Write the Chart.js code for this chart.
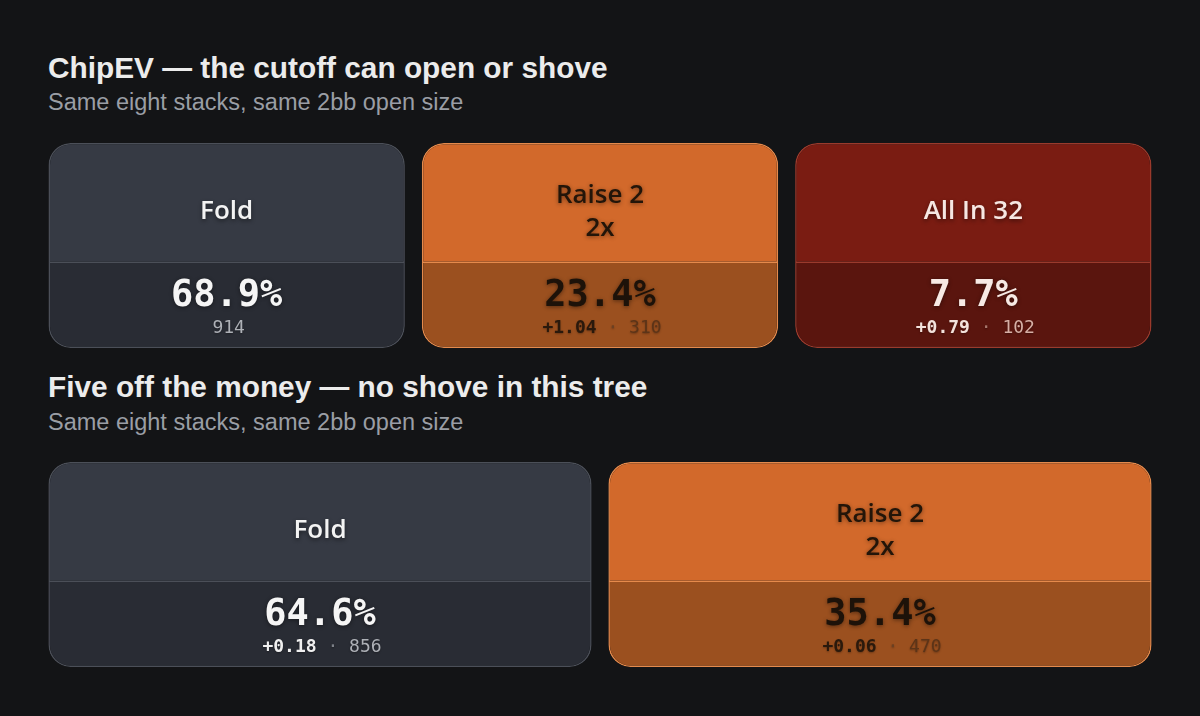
<!DOCTYPE html>
<html><head><meta charset="utf-8">
<script src="https://cdn.jsdelivr.net/npm/chart.js@4.4.1/dist/chart.umd.min.js"></script>
<style>
html,body{margin:0;padding:0;background:#131416;width:1200px;height:716px;overflow:hidden;font-family:"Liberation Sans",Arial,sans-serif;}
.t{position:absolute;left:48px;color:#ececec;font-weight:bold;font-size:29.8px;white-space:nowrap;line-height:1}
.s{position:absolute;left:48px;color:#9a9ea5;font-size:23.5px;white-space:nowrap;line-height:1}
.c{position:absolute;left:40px;width:1120px;height:213px}
</style></head><body>
<div class="t" style="top:53px">ChipEV — the cutoff can open or shove</div>
<div class="s" style="top:91px">Same eight stacks, same 2bb open size</div>
<div class="c" style="top:139px"><canvas id="c1"></canvas></div>
<div class="t" style="top:372px">Five off the money — no shove in this tree</div>
<div class="s" style="top:411px">Same eight stacks, same 2bb open size</div>
<div class="c" style="top:458px"><canvas id="c2"></canvas></div>
<script>
// ---- data ----
const chipActions = ['Fold', 'Raise 2\n2x', 'All In 32'];
const chipFreq = [68.9, 23.4, 7.7];
const chipEV = [null, 1.04, 0.79];
const chipCombos = [914, 310, 102];

const ftmActions = ['Fold', 'Raise 2\n2x'];
const ftmFreq = [64.6, 35.4];
const ftmEV = [0.18, 0.06];
const ftmCombos = [856, 470];

// ---- styles ----
const palette = {
  'Fold':      {top:'#363a44', bot:'#292c34', border:'#4b4f58', label:'#f3f3f3', pct:'#f5f5f5', ev:'#f0f0f0', cnt:'#aeb1b7', dot:'#7d8088'},
  'Raise':     {top:'#d2692b', bot:'#9b501f', border:'#e58a4c', label:'#231509', pct:'#1d1209', ev:'#2a190c', cnt:'#5c3418', dot:'#6b4022'},
  'All In':    {top:'#7a1c12', bot:'#5a150e', border:'#9b3a2c', label:'#f6e7e2', pct:'#f7e9e4', ev:'#f3e2dc', cnt:'#d6afa5', dot:'#a9786d'}
};
function kind(a){ return a.startsWith('Fold') ? 'Fold' : a.startsWith('Raise') ? 'Raise' : 'All In'; }

const SPLIT = 85/205;
const LABEL_FONT = '600 26px "Open Sans", sans-serif';
const PCT_FONT = 'bold 37px "DejaVu Sans Mono", monospace';
const SUB_B = 'bold 18px "DejaVu Sans Mono", monospace';
const SUB_R = '18px "DejaVu Sans Mono", monospace';

const cardText = {
  id:'cardText',
  afterDatasetsDraw(chart){
    const ctx = chart.ctx;
    const {actions, freq, ev, combos} = chart.options.plugins.cardText;
    const head = chart.getDatasetMeta(1).data;
    const body = chart.getDatasetMeta(0).data;
    actions.forEach((a,i)=>{
      const p = palette[kind(a)];
      const h = head[i], b = body[i];
      ctx.save();
      ctx.textAlign='center'; ctx.textBaseline='middle';
      ctx.shadowColor='rgba(0,0,0,0.45)'; ctx.shadowBlur=4; ctx.shadowOffsetY=1.5;
      // label
      ctx.font = LABEL_FONT; ctx.fillStyle = p.label;
      const lines = a.split('\n');
      const cy = (h.y + h.base)/2 + 9;
      const lh = 33;
      lines.forEach((ln,k)=>{
        ctx.fillText(ln, h.x, cy + (k - (lines.length-1)/2)*lh);
      });
      // pct
      ctx.font = PCT_FONT; ctx.fillStyle = p.pct;
      ctx.fillText(freq[i].toFixed(1)+'%', b.x, b.y + 33);
      // sub line
      ctx.shadowBlur=2; ctx.shadowOffsetY=1; ctx.shadowColor='rgba(0,0,0,0.3)';
      const sy = b.y + 65;
      const parts = [];
      if (ev[i] !== null && ev[i] !== undefined) {
        parts.push({t:(ev[i]>=0?'+':'')+ev[i].toFixed(2), f:SUB_B, c:p.ev});
        parts.push({t:' · ', f:SUB_R, c:p.dot});
      }
      parts.push({t:String(combos[i]), f:SUB_R, c:p.cnt});
      let w = 0;
      parts.forEach(pt=>{ ctx.font=pt.f; pt.w = ctx.measureText(pt.t).width; w += pt.w; });
      let x = b.x - w/2 + 2;
      ctx.textAlign='left';
      parts.forEach(pt=>{ ctx.font=pt.f; ctx.fillStyle=pt.c; ctx.fillText(pt.t, x, sy); x += pt.w; });
      ctx.restore();
    });
  }
};

function makeCards(id, actions, freq, ev, combos, frac){
  const cols = actions.map(a=>palette[kind(a)]);
  return new Chart(document.getElementById(id), {
    type:'bar',
    data:{
      labels: actions,
      datasets:[
        { data: actions.map(()=>[0, SPLIT]),
          backgroundColor: cols.map(c=>c.bot), borderColor: cols.map(c=>c.border),
          borderWidth: 1.5, borderSkipped: 'end',
          borderRadius: {topLeft:0, topRight:0, bottomLeft:22, bottomRight:22} },
        { data: actions.map(()=>[SPLIT, 1]),
          backgroundColor: cols.map(c=>c.top), borderColor: cols.map(c=>c.border),
          borderWidth: 1.5, borderSkipped: false,
          borderRadius: {topLeft:22, topRight:22, bottomLeft:0, bottomRight:0} }
      ]
    },
    options:{
      responsive:true, maintainAspectRatio:false, animation:false,
      layout:{padding:{top:4,bottom:4,left:0,right:0}},
      datasets:{bar:{barPercentage:frac, categoryPercentage:1, grouped:false}},
      scales:{
        x:{display:false, stacked:true},
        y:{display:false, min:0, max:1}
      },
      plugins:{legend:{display:false}, tooltip:{enabled:false}, title:{display:false},
        cardText:{actions, freq, ev, combos}}
    },
    plugins:[cardText]
  });
}
makeCards('c1', chipActions, chipFreq, chipEV, chipCombos, 0.9545);
makeCards('c2', ftmActions, ftmFreq, ftmEV, ftmCombos, 0.97);
</script>
</body></html>
